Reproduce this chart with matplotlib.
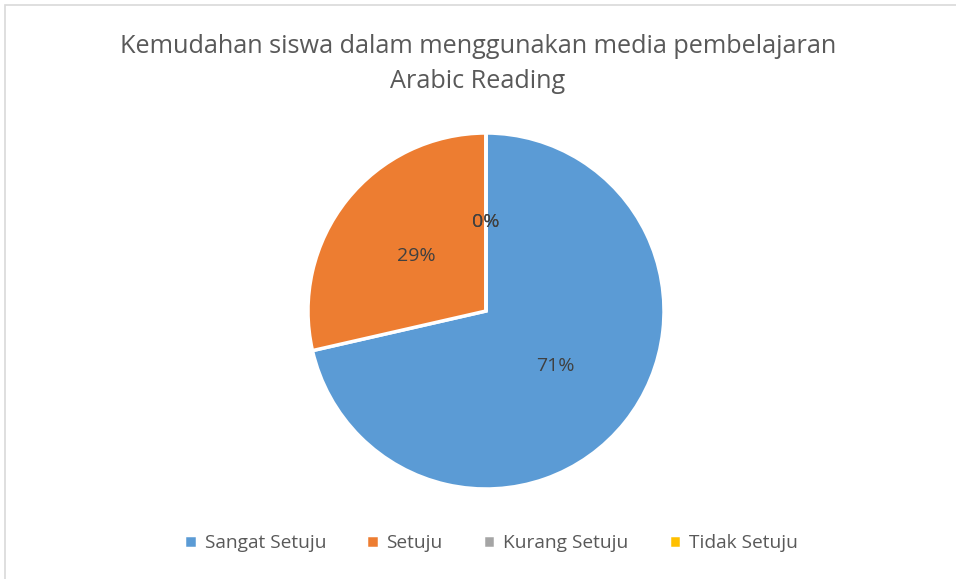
import matplotlib
matplotlib.use("Agg")
import matplotlib.pyplot as plt
from matplotlib.patches import Rectangle

categories = ["Sangat Setuju", "Setuju", "Kurang Setuju", "Tidak Setuju"]
counts = [20, 8, 0, 0]
colors = ["#5B9BD5", "#ED7D31", "#A5A5A5", "#FFC000"]
title = "Kemudahan siswa dalam menggunakan media pembelajaran\nArabic Reading"

plt.rcParams["font.family"] = ["Open Sans", "DejaVu Sans"]

W, H = 956, 579
fig = plt.figure(figsize=(W / 100, H / 100), dpi=100)

# light chart border (top/left visible)
fig.patches.append(Rectangle((5 / W, -0.1), 1.2, 1 - 5 / H + 0.1,
                             transform=fig.transFigure, fill=False,
                             edgecolor="#D9D9D9", linewidth=1.2))

cx, cy, r = 486, 311, 178
ax = fig.add_axes([(cx - r) / W, (H - cy - r) / H, 2 * r / W, 2 * r / H])
wedges, _, autotexts = ax.pie(
    counts, colors=colors, startangle=90, counterclock=False,
    autopct=lambda p: f"{p:.0f}%", pctdistance=0.5, radius=1,
    wedgeprops=dict(edgecolor="white", linewidth=2.5),
    textprops=dict(color="#404040", fontsize=14))
ax.set_xlim(-1, 1)
ax.set_ylim(-1, 1)
ax.axis("off")

fig.text(0.5, 1 - 64 / H, title, ha="center", va="center",
         fontsize=18.2, color="#595959", linespacing=1.5)

fig.legend(wedges, categories, loc="center", bbox_to_anchor=(0.5 + 13 / W, 1 - 543 / H),
           ncol=4, frameon=False, fontsize=13.8, labelcolor="#595959",
           handlelength=0.65, handleheight=0.65, handletextpad=0.4,
           columnspacing=2.1)

fig.savefig("out.png", dpi=100)
